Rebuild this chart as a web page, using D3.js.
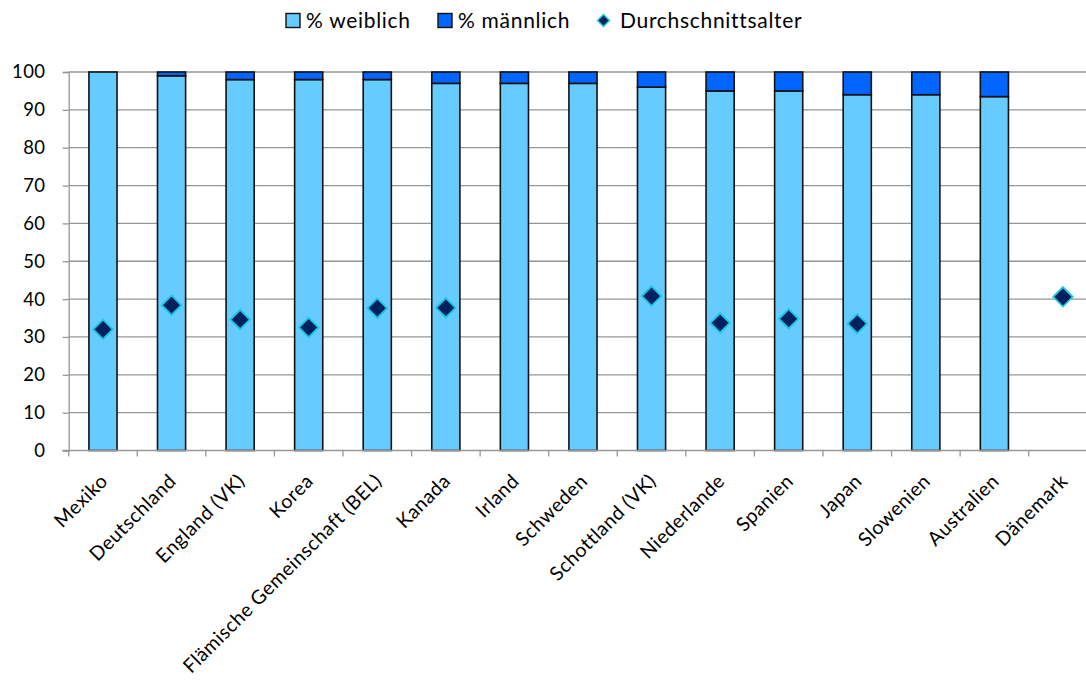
<!DOCTYPE html>
<html>
<head>
<meta charset="utf-8">
<script src="https://cdn.jsdelivr.net/npm/d3@7"></script>
<style>
  body { margin: 0; background: #fff; }
  svg { display: block; font-family: Lato, "Open Sans", sans-serif; }
</style>
</head>
<body>
<svg id="chart" width="1086" height="682"></svg>
<script>
// Teacher sample by country: share of women / men and average age
const countries = ["Mexiko", "Deutschland", "England (VK)", "Korea", "Flämische Gemeinschaft (BEL)",
  "Kanada", "Irland", "Schweden", "Schottland (VK)", "Niederlande", "Spanien", "Japan",
  "Slowenien", "Australien", "Dänemark"];
const femalePct = [100, 99, 98, 98, 98, 97, 97, 97, 96, 95, 95, 94, 94, 93.5, null];
const malePct   = [0, 1, 2, 2, 2, 3, 3, 3, 4, 5, 5, 6, 6, 6.5, null];
const avgAge    = [32.0, 38.4, 34.6, 32.5, 37.6, 37.7, null, null, 40.8, 33.7, 34.8, 33.5, null, null, 40.6];
const yTicks = [0, 10, 20, 30, 40, 50, 60, 70, 80, 90, 100];
const legendLabels = ["% weiblich", "% männlich", "Durchschnittsalter"];

const colFemale = "#66ccff", colMale = "#0066ff", colDiamond = "#002060", colDiamondEdge = "#19c8e0";

const svg = d3.select("#chart");
const plot = { left: 68.7, top: 72, bottom: 450.5, right: 68.7 + 15 * 68.57 };

const x = d3.scaleBand().domain(countries).range([plot.left, plot.right]).paddingInner(0).paddingOuter(0);
const y = d3.scaleLinear().domain([0, 100]).range([plot.bottom, plot.top]);
const barW = x.bandwidth() * 0.41;

// horizontal gridlines
svg.append("g").selectAll("line").data(yTicks.filter(d => d > 0)).join("line")
  .attr("x1", plot.left).attr("x2", plot.right)
  .attr("y1", d => y(d)).attr("y2", d => y(d))
  .attr("stroke", "#969696").attr("stroke-width", 1.3);

// y axis
const yAxis = svg.append("g").attr("transform", `translate(${plot.left},0)`)
  .call(d3.axisLeft(y).tickValues(yTicks).tickSize(6).tickPadding(17.5));
yAxis.select(".domain").attr("stroke", "#969696").attr("stroke-width", 1.3);
yAxis.selectAll(".tick line").attr("stroke", "#969696").attr("stroke-width", 1.3);
yAxis.selectAll("text").attr("font-size", 18.5).attr("fill", "#000")
  .attr("font-family", "Lato, sans-serif").attr("letter-spacing", "0.3px");

// stacked bars
const rows = countries.map((c, i) => ({ c, f: femalePct[i], m: malePct[i] }));
const barG = svg.append("g");
rows.filter(r => r.f != null).forEach(r => {
  const x0 = x(r.c) + (x.bandwidth() - barW) / 2;
  barG.append("rect").attr("x", x0).attr("width", barW)
    .attr("y", y(r.f)).attr("height", y(0) - y(r.f))
    .attr("fill", colFemale).attr("stroke", "#111").attr("stroke-width", 1.6);
  if (r.m > 0) {
    barG.append("rect").attr("x", x0).attr("width", barW)
      .attr("y", y(r.f + r.m)).attr("height", y(r.f) - y(r.f + r.m))
      .attr("fill", colMale).attr("stroke", "#111").attr("stroke-width", 1.6);
  }
});

// x axis
const xAxisG = svg.append("g").attr("transform", `translate(0,${plot.bottom})`);
xAxisG.append("line").attr("x1", plot.left - 6).attr("x2", plot.right)
  .attr("stroke", "#969696").attr("stroke-width", 1.3);
xAxisG.selectAll("line.tk").data(d3.range(countries.length + 1)).join("line").attr("class", "tk")
  .attr("x1", i => plot.left + i * x.step()).attr("x2", i => plot.left + i * x.step())
  .attr("y1", 0).attr("y2", 6).attr("stroke", "#969696").attr("stroke-width", 1.3);
xAxisG.selectAll("text").data(countries).join("text")
  .attr("transform", d => `translate(${x(d) + x.bandwidth() / 2 + 1},${27}) rotate(-45)`)
  .attr("text-anchor", "end").attr("dy", "0.35em")
  .attr("font-size", 19.5).attr("letter-spacing", "0.5px").attr("fill", "#000")
  .text(d => d);

// average age diamonds
const diamond = d3.symbol().type(d3.symbolDiamond2).size(240);
svg.append("g").selectAll("path")
  .data(countries.map((c, i) => ({ c, v: avgAge[i] })).filter(d => d.v != null))
  .join("path")
  .attr("d", diamond)
  .attr("transform", d => `translate(${x(d.c) + x.bandwidth() / 2},${y(d.v)})`)
  .attr("fill", colDiamond).attr("stroke", colDiamondEdge).attr("stroke-width", 1.8);

// legend
const leg = svg.append("g").attr("transform", "translate(286,20.5)");
const legX = [0, 152, 312];
legendLabels.forEach((t, i) => {
  const g = leg.append("g").attr("transform", `translate(${legX[i]},0)`);
  if (i < 2) {
    g.append("rect").attr("x", 0).attr("y", -7).attr("width", 14).attr("height", 14)
      .attr("fill", i === 0 ? colFemale : colMale).attr("stroke", "#111").attr("stroke-width", 1.4);
  } else {
    g.append("path").attr("d", d3.symbol().type(d3.symbolDiamond2).size(90))
      .attr("transform", "translate(5.5,0)")
      .attr("fill", colDiamond).attr("stroke", colDiamondEdge).attr("stroke-width", 1.5);
  }
  g.append("text").attr("x", i < 2 ? 20 : 22).attr("y", 0).attr("dy", "0.35em")
    .attr("font-size", 21).attr("letter-spacing", "0.7px").attr("fill", "#000").text(t);
});
</script>
</body>
</html>
